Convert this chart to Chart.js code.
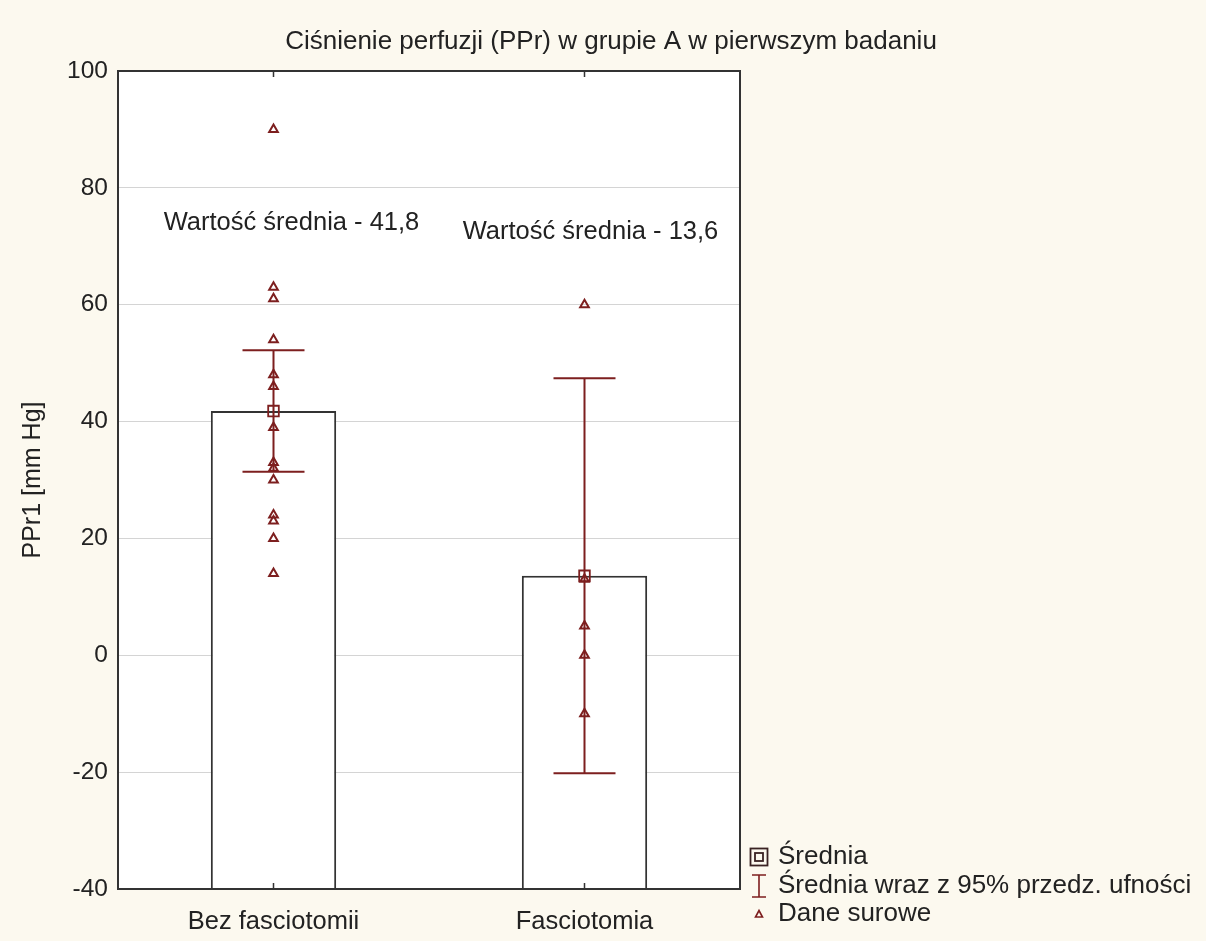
<!DOCTYPE html>
<html><head><meta charset="utf-8">
<script src="https://cdn.jsdelivr.net/npm/chart.js@4.4.0/dist/chart.umd.min.js"></script>
<style>html,body{margin:0;padding:0;background:#fcf9ef;}#wrap{width:1206px;height:941px;position:relative;}</style>
</head><body><div id="wrap"><canvas id="c"></canvas></div>
<script>
// ---- data ----
const categories = ['Bez fasciotomii', 'Fasciotomia'];
const means = [41.8, 13.6];
const ciLower = [31.4, -20.2];
const ciUpper = [52.2, 47.4];
const rawBez = [90, 63, 61, 54, 48, 46, 39, 33, 32, 30, 24, 23, 20, 14];
const rawFas = [60, 13, 5, 0, -10];
const yTicks = [-40, -20, 0, 20, 40, 60, 80, 100];
const titleText = 'Ciśnienie perfuzji (PPr) w grupie A w pierwszym badaniu';
const yAxisTitle = 'PPr1 [mm Hg]';
const legendLabels = ['Średnia', 'Średnia wraz z 95% przedz. ufności', 'Dane surowe'];

// ---- layout / style ----
const FONT = '"Liberation Sans", Arial, sans-serif';
const MAROON = '#7d1f1f';
const TEXT = '#222';
const annotLayout = { y: [74, 72.5], dx: [18, 6] };

const rawPoints = [
  ...rawBez.map(v => ({ x: categories[0], y: v })),
  ...rawFas.map(v => ({ x: categories[1], y: v }))
];

const fmt = v => v.toFixed(1).replace('.', ',');

const drawPlugin = {
  id: 'custom',
  beforeDraw(chart) {
    const ctx = chart.ctx, a = chart.chartArea;
    ctx.save();
    ctx.fillStyle = '#fcf9ef';
    ctx.fillRect(0, 0, chart.width, chart.height);
    ctx.fillStyle = '#ffffff';
    ctx.fillRect(a.left, a.top, a.right - a.left, a.bottom - a.top);
    ctx.restore();
  },
  afterDatasetDraw(chart, args) {
    if (args.index !== 0) return;
    const ctx = chart.ctx, xs = chart.scales.x, ys = chart.scales.y;
    ctx.save();
    ctx.strokeStyle = MAROON;
    ctx.lineWidth = 2;
    categories.forEach((c, i) => {
      const x = xs.getPixelForValue(i);
      const yl = ys.getPixelForValue(ciLower[i]);
      const yh = ys.getPixelForValue(ciUpper[i]);
      ctx.beginPath();
      ctx.moveTo(x, yl); ctx.lineTo(x, yh);
      ctx.moveTo(x - 31, yl); ctx.lineTo(x + 31, yl);
      ctx.moveTo(x - 31, yh); ctx.lineTo(x + 31, yh);
      ctx.stroke();
    });
    ctx.restore();
  },
  afterDraw(chart) {
    const ctx = chart.ctx, a = chart.chartArea, xs = chart.scales.x, ys = chart.scales.y;
    ctx.save();
    // plot border
    ctx.strokeStyle = '#333';
    ctx.lineWidth = 2;
    ctx.strokeRect(a.left, a.top, a.right - a.left, a.bottom - a.top);
    // inner category ticks
    ctx.lineWidth = 1.5;
    categories.forEach((c, i) => {
      const x = xs.getPixelForValue(i);
      ctx.beginPath();
      ctx.moveTo(x, a.bottom); ctx.lineTo(x, a.bottom - 6);
      ctx.moveTo(x, a.top); ctx.lineTo(x, a.top + 6);
      ctx.stroke();
    });
    // annotations
    ctx.fillStyle = TEXT;
    ctx.font = '25.5px ' + FONT;
    ctx.textAlign = 'center';
    ctx.textBaseline = 'middle';
    categories.forEach((c, i) => {
      ctx.fillText('Wartość średnia - ' + fmt(means[i]),
        xs.getPixelForValue(i) + annotLayout.dx[i], ys.getPixelForValue(annotLayout.y[i]));
    });
    // title
    ctx.font = '26px ' + FONT;
    ctx.fillText(titleText, 611, 42);
    // legend
    const lx = 759, tx = 778, rows = [857, 886, 914];
    ctx.textAlign = 'left';
    legendLabels.forEach((t, i) => ctx.fillText(t, tx, rows[i]));
    ctx.strokeStyle = '#3a2323';
    ctx.lineWidth = 1.8;
    ctx.strokeRect(lx - 8.5, rows[0] - 8.5, 17, 17);
    ctx.strokeRect(lx - 4, rows[0] - 4, 8, 8);
    ctx.strokeStyle = MAROON;
    ctx.lineWidth = 1.6;
    ctx.beginPath();
    ctx.moveTo(lx, rows[1] - 11); ctx.lineTo(lx, rows[1] + 11);
    ctx.moveTo(lx - 7, rows[1] - 11); ctx.lineTo(lx + 7, rows[1] - 11);
    ctx.moveTo(lx - 7, rows[1] + 11); ctx.lineTo(lx + 7, rows[1] + 11);
    ctx.stroke();
    ctx.lineWidth = 1.6;
    ctx.beginPath();
    ctx.moveTo(lx - 3.5, rows[2] + 3);
    ctx.lineTo(lx + 3.5, rows[2] + 3);
    ctx.lineTo(lx, rows[2] - 3.5);
    ctx.closePath();
    ctx.stroke();
    ctx.restore();
  }
};

new Chart(document.getElementById('c'), {
  data: {
    labels: categories,
    datasets: [
      {
        type: 'bar', data: means, base: -40,
        backgroundColor: '#ffffff', borderColor: '#333', borderWidth: 2,
        barPercentage: 0.403, categoryPercentage: 1, order: 3
      },
      {
        type: 'line', data: means, showLine: false,
        pointStyle: 'rect', pointRadius: 7.5, pointBorderColor: MAROON,
        pointBackgroundColor: 'rgba(0,0,0,0)', pointBorderWidth: 1.8, order: 2
      },
      {
        type: 'line', data: rawPoints, showLine: false,
        pointStyle: 'triangle', pointRadius: 5, pointBorderColor: MAROON,
        pointBackgroundColor: 'rgba(0,0,0,0)', pointBorderWidth: 2, order: 1
      }
    ]
  },
  options: {
    responsive: true, maintainAspectRatio: false, animation: false,
    layout: { padding: { left: 0, right: 466, top: 71, bottom: 0 } },
    plugins: { legend: { display: false }, tooltip: { enabled: false }, title: { display: false } },
    scales: {
      x: {
        type: 'category', offset: true,
        grid: { display: false }, border: { display: false },
        ticks: { font: { size: 25.5, family: FONT }, color: TEXT, padding: 10, maxRotation: 0 },
        afterFit: s => { s.height = 52; }
      },
      y: {
        min: -40, max: 100,
        afterBuildTicks: s => { s.ticks = yTicks.map(v => ({ value: v })); },
        ticks: { font: { size: 24.5, family: FONT }, color: TEXT, padding: 10 },
        grid: { color: '#d4d4d4', lineWidth: 1, drawTicks: false },
        border: { display: false },
        title: { display: true, text: yAxisTitle, font: { size: 25, family: FONT }, color: TEXT, padding: { top: 18, bottom: 0 } },
        afterFit: s => { s.width = 118; }
      }
    }
  },
  plugins: [drawPlugin]
});
</script>
</body></html>
